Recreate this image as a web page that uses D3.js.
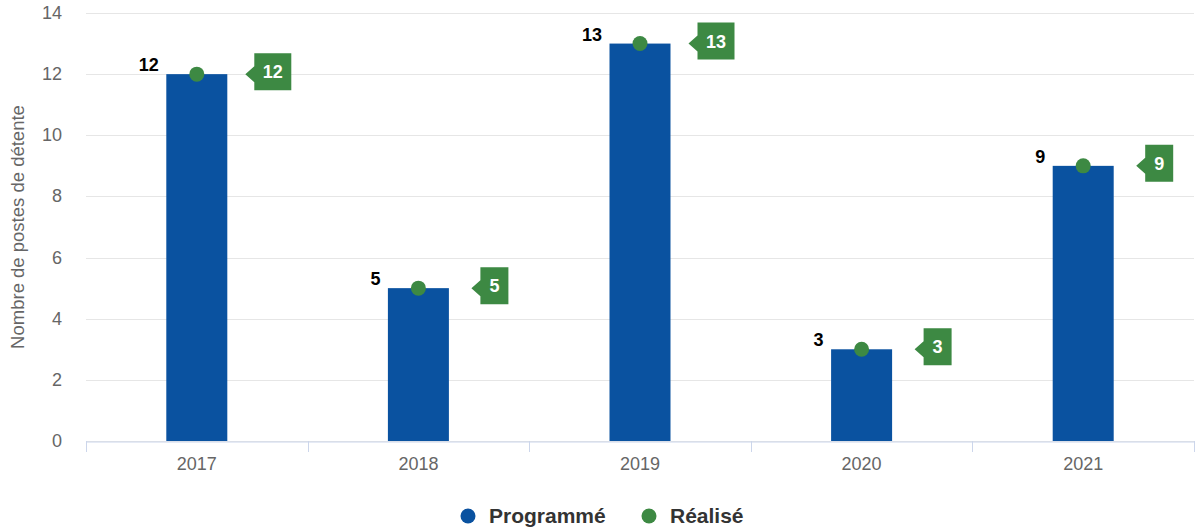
<!DOCTYPE html>
<html>
<head>
<meta charset="utf-8">
<script src="https://cdn.jsdelivr.net/npm/d3@7"></script>
<style>
  body { margin: 0; background: #fff; }
  text { font-family: "Liberation Sans", Arial, sans-serif; }
</style>
</head>
<body>
<script>
var years = ["2017", "2018", "2019", "2020", "2021"];
var programme = [12, 5, 13, 3, 9];
var realise = [12, 5, 13, 3, 9];
var yTicks = [0, 2, 4, 6, 8, 10, 12, 14];

var WIDTH = 1199, HEIGHT = 532;
var BLUE = "#0a52a0", GREEN = "#3d8943";
var plotLeft = 86, plotRight = 1194, plotTop = 13, plotBottom = 441;

var svg = d3.select("body").append("svg")
  .attr("width", WIDTH).attr("height", HEIGHT);

var x = d3.scaleBand().domain(years).range([plotLeft, plotRight]);
var y = d3.scaleLinear().domain([0, 14]).range([plotBottom, plotTop]);

// grid
svg.selectAll("line.grid").data(yTicks).enter().append("line")
  .attr("x1", plotLeft).attr("x2", plotRight)
  .attr("y1", d => Math.round(y(d)) + 0.5).attr("y2", d => Math.round(y(d)) + 0.5)
  .attr("stroke", "#e6e6e6").attr("stroke-width", 1);

// y labels
svg.selectAll("text.ylab").data(yTicks).enter().append("text")
  .attr("x", 62).attr("y", d => y(d) + 6)
  .attr("text-anchor", "end").attr("fill", "#666").attr("font-size", 18)
  .text(d => d);

svg.append("text")
  .attr("transform", "translate(24," + ((plotTop + plotBottom) / 2) + ") rotate(-90)")
  .attr("text-anchor", "middle").attr("fill", "#666").attr("font-size", 18.5)
  .text("Nombre de postes de détente");

// x axis
var xAxis = svg.append("g").attr("transform", "translate(0," + (plotBottom + 0.5) + ")")
  .call(d3.axisBottom(x).tickSize(0).tickPadding(16));
xAxis.select(".domain").attr("stroke", "#ccd6eb");
xAxis.selectAll("text").attr("fill", "#666").attr("font-size", 18)
  .attr("font-family", "Liberation Sans, Arial, sans-serif");
var edges = years.map(d => x(d)).concat([plotRight]);
svg.selectAll("line.xtick").data(edges).enter().append("line")
  .attr("x1", d => Math.round(d) + 0.5).attr("x2", d => Math.round(d) + 0.5)
  .attr("y1", plotBottom).attr("y2", plotBottom + 11)
  .attr("stroke", "#ccd6eb");

var barW = 61;
var cx = d => x(d) + x.bandwidth() / 2;

// bars
svg.selectAll("rect.bar").data(years).enter().append("rect")
  .attr("x", d => cx(d) - barW / 2)
  .attr("y", (d, i) => y(programme[i]))
  .attr("width", barW)
  .attr("height", (d, i) => plotBottom - y(programme[i]))
  .attr("fill", BLUE);

// bar labels
svg.selectAll("text.blab").data(years).enter().append("text")
  .attr("x", d => cx(d) - 38)
  .attr("y", (d, i) => y(programme[i]) - 3)
  .attr("text-anchor", "end").attr("font-weight", "bold").attr("font-size", 18)
  .attr("fill", "#000")
  .text((d, i) => programme[i]);

// points
svg.selectAll("circle.pt").data(years).enter().append("circle")
  .attr("cx", d => cx(d))
  .attr("cy", (d, i) => y(realise[i]))
  .attr("r", 7.5).attr("fill", GREEN);

// callouts: box centred at cx + 76, arrow pointing left
var callouts = svg.selectAll("g.callout").data(years).enter().append("g")
  .attr("transform", (d, i) => "translate(" + (cx(d) + 76) + "," + y(realise[i]) + ")");
callouts.append("path")
  .attr("d", (d, i) => {
    var h = String(realise[i]).length > 1 ? 18.5 : 14;
    return "M" + (-h - 9) + ",0 L" + (-h) + ",-8 L" + (-h) + ",-21 L" + h + ",-21 L" + h +
      ",16 L" + (-h) + ",16 L" + (-h) + ",8 Z";
  })
  .attr("fill", GREEN);
callouts.append("text")
  .attr("x", 0)
  .attr("y", 4)
  .attr("text-anchor", "middle").attr("font-weight", "bold").attr("font-size", 18)
  .attr("fill", "#fff")
  .text((d, i) => realise[i]);

// legend
var legend = [{name: "Programmé", color: BLUE, x: 468}, {name: "Réalisé", color: GREEN, x: 649}];
var lg = svg.selectAll("g.legend").data(legend).enter().append("g")
  .attr("transform", d => "translate(" + d.x + ",516)");
lg.append("circle").attr("r", 7.5).attr("fill", d => d.color);
lg.append("text").attr("x", 21).attr("y", 7)
  .attr("font-weight", "bold").attr("font-size", 21).attr("fill", "#333")
  .text(d => d.name);
</script>
</body>
</html>
